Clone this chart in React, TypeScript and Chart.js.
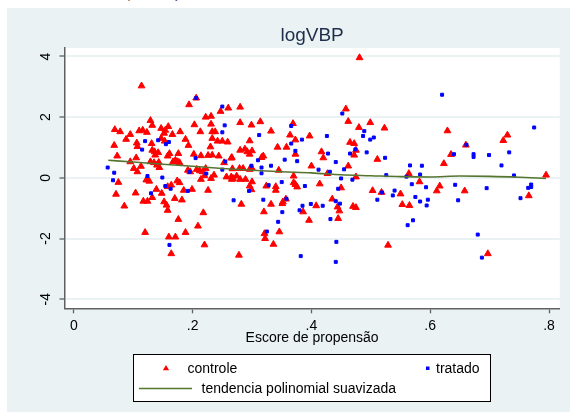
import React, { useEffect, useRef } from "react";
import { Chart, registerables } from "chart.js";

Chart.register(...registerables);

// ---- data (x = propensity score, y = logVBP) ----
const controle: number[][] = [
  [0.114,3.03],[0.206,2.63],[0.194,2.41],[0.247,2.19],[0.26,2.3],[0.28,2.33],[0.222,2.0],[0.231,2.03],
  [0.129,1.89],[0.132,1.73],[0.203,1.75],[0.231,1.77],[0.28,1.82],[0.299,1.74],[0.314,1.85],[0.369,1.79],
  [0.069,1.59],[0.078,1.52],[0.11,1.55],[0.116,1.57],[0.123,1.5],[0.147,1.63],[0.154,1.57],[0.159,1.69],[0.152,1.47],[0.166,1.43],[0.179,1.52],[0.213,1.52],[0.233,1.52],[0.238,1.52],
  [0.095,1.43],[0.088,1.27],[0.106,1.15],[0.107,1.03],[0.147,1.3],[0.153,1.21],[0.131,1.13],[0.188,1.27],[0.193,1.07],[0.233,1.3],[0.242,1.21],[0.25,1.21],[0.259,1.18],[0.296,1.22],[0.332,1.54],[0.364,1.41],[0.373,1.25],[0.397,1.38],[0.343,1.01],[0.358,1.01],[0.068,1.07],
  [0.132,0.91],[0.136,0.86],[0.142,0.83],[0.137,0.75],[0.158,0.72],[0.161,0.8],[0.176,0.8],[0.202,0.78],[0.214,0.73],[0.226,0.74],[0.23,1.02],[0.233,0.75],[0.244,0.72],[0.266,0.67],[0.28,0.91],[0.288,0.95],[0.292,0.86],[0.3,0.89],[0.296,0.78],[0.316,0.67],[0.319,0.72],[0.373,0.78],
  [0.073,0.72],[0.105,0.66],[0.095,0.53],[0.113,0.38],[0.101,0.31],[0.107,0.2],[0.129,0.53],[0.135,0.5],[0.14,0.42],[0.144,0.34],[0.143,0.51],[0.167,0.53],[0.171,0.58],[0.175,0.53],[0.178,0.5],
  [0.192,0.25],[0.207,0.28],[0.212,0.23],[0.217,0.2],[0.222,0.31],[0.196,0.2],[0.236,0.09],[0.214,-0.05],[0.231,-0.02],[0.22,0.07],
  [0.253,0.5],[0.265,0.65],[0.279,0.31],[0.285,0.31],[0.296,0.28],[0.3,0.31],[0.267,0.3],[0.345,0.25],[0.274,0.06],[0.28,-0.05],[0.289,-0.05],[0.3,-0.13],[0.268,-0.02],[0.265,0.03],[0.37,0.06],
  [0.075,-0.15],[0.071,-0.54],[0.085,-0.93],[0.104,-0.5],[0.117,-0.77],[0.124,-0.77],[0.122,-0.07],[0.127,-0.11],[0.139,-0.38],[0.132,-0.65],[0.148,-0.51],[0.158,-0.29],[0.164,-0.24],[0.17,-0.68],[0.156,-0.9],[0.152,-0.79],[0.158,-1.07],[0.174,-0.1],[0.178,-0.16],[0.182,-0.73],[0.185,-0.41],[0.199,-0.38],
  [0.176,-1.37],[0.188,-1.8],[0.209,-1.59],[0.218,-1.15],[0.12,-1.8],[0.16,-1.95],[0.171,-1.95],[0.164,-2.5],[0.22,-2.21],[0.226,-0.41],[0.257,0.03],[0.266,-0.05],[0.282,-0.87],[0.299,-0.39],[0.296,-0.27],
  [0.32,-1.12],[0.321,-1.84],[0.322,-2.0],[0.332,-0.87],[0.336,-2.19],[0.324,-0.27],[0.34,-0.29],[0.34,-0.41],[0.346,-1.78],[0.351,-0.85],[0.352,-0.79],[0.357,-0.7],[0.37,-0.16],[0.373,-0.22],[0.376,-0.3],[0.386,-1.12],[0.396,-1.4],[0.278,-2.55],
  [0.481,3.96],[0.458,2.27],[0.462,1.86],[0.48,1.66],[0.499,1.82],[0.523,1.64],[0.629,1.55],[0.73,1.41],[0.723,1.23],[0.465,1.17],[0.472,1.13],[0.475,0.91],[0.472,0.75],[0.511,0.61],[0.417,0.86],[0.42,0.66],[0.4,0.39],[0.427,0.14],[0.462,0.39],[0.475,0.03],
  [0.66,1.08],[0.635,0.77],[0.623,0.47],[0.564,0.14],[0.582,-0.13],[0.616,-0.27],[0.611,-0.43],[0.658,-0.43],[0.795,0.09],[0.766,-0.59],
  [0.414,-0.2],[0.45,-0.33],[0.435,-0.7],[0.444,-0.96],[0.447,-1.09],[0.445,-1.34],[0.408,-0.92],[0.47,-0.94],[0.475,-0.98],[0.503,-0.42],[0.518,-0.48],[0.55,-0.53],[0.553,-0.88],[0.565,-0.91],[0.529,-2.22],[0.697,-2.5],
];

const tratado: number[][] = [
  [0.206,2.63],[0.25,2.35],[0.254,1.73],[0.366,1.71],[0.25,1.5],[0.12,1.21],[0.142,1.24],[0.16,1.18],[0.155,1.11],[0.312,1.41],[0.366,1.13],[0.384,1.26],[0.115,0.93],[0.31,0.58],[0.373,0.89],[0.376,0.55],[0.355,0.6],
  [0.195,0.2],[0.223,0.14],[0.25,0.27],[0.299,0.4],[0.316,0.34],[0.316,0.15],[0.332,0.4],[0.35,-0.14],[0.057,0.34],[0.068,0.17],[0.066,-0.08],[0.124,0.06],[0.13,-0.51],[0.149,0.01],[0.154,-0.27],[0.163,-0.36],[0.192,-0.43],
  [0.161,-2.21],[0.269,-0.74],[0.295,-0.43],[0.319,-0.72],[0.325,-1.77],[0.328,-0.24],[0.344,-1.45],[0.358,-0.69],[0.351,-1.13],[0.389,-0.27],[0.385,-0.92],[0.38,-1.07],[0.399,-0.86],[0.382,-2.58],[0.205,0.65],[0.255,0.54],
  [0.62,2.74],[0.452,2.12],[0.489,1.54],[0.487,1.38],[0.505,1.33],[0.499,1.26],[0.775,1.66],[0.426,1.38],[0.474,0.94],[0.465,0.8],[0.493,0.84],[0.524,0.66],[0.428,0.8],[0.441,0.52],[0.412,0.27],[0.431,0.2],[0.455,0.28],
  [0.45,-0.02],[0.469,-0.06],[0.526,0.09],[0.661,1.09],[0.64,0.78],[0.673,0.78],[0.673,0.69],[0.699,0.75],[0.72,0.41],[0.733,0.84],[0.566,0.41],[0.586,0.4],[0.583,0.11],[0.56,0.04],[0.569,-0.21],[0.593,-0.31],[0.642,-0.23],
  [0.647,-0.74],[0.695,-0.34],[0.741,0.08],[0.77,-0.22],[0.77,-0.3],[0.765,-0.33],[0.752,-0.67],[0.445,-0.36],[0.441,-0.77],[0.448,-0.85],[0.432,-1.36],[0.419,-0.92],[0.519,-0.48],[0.54,-0.42],[0.537,-0.58],[0.511,-0.72],
  [0.575,-0.63],[0.583,-0.78],[0.596,-0.72],[0.594,-0.91],[0.562,-1.56],[0.571,-1.4],[0.442,-2.11],[0.441,-2.77],[0.68,-1.87],[0.687,-2.63],
];

const trendX = [0.058, 0.1, 0.15, 0.2, 0.25, 0.3, 0.35, 0.4, 0.45, 0.5, 0.55, 0.6, 0.65, 0.7, 0.75, 0.795];
const trendY = [0.58, 0.52, 0.45, 0.38, 0.31, 0.25, 0.2, 0.165, 0.1, 0.07, 0.04, 0.03, 0.06, 0.05, 0.02, -0.02];

const xTicks = [0, 0.2, 0.4, 0.6, 0.8];
const xTickLabels = ["0", ".2", ".4", ".6", ".8"];
const yTicks = [-4, -2, 0, 2, 4];
const yTickLabels = ["-4", "-2", "0", "2", "4"];

const TITLE = "logVBP";
const X_TITLE = "Escore de propensão";
const LEGEND_LABELS = ["controle", "tratado", "tendencia polinomial suavizada"];

const BG = "#eaf2f3";
const RED = "#ff0000";
const BLUE = "#0000ff";
const GREEN = "rgb(85,117,47)";
const AXIS = "#606060";
const FONT = "'Liberation Sans', Arial, sans-serif";

const W = 563;
const H = 404;

const textPlugin = {
  id: "stataText",
  beforeDraw(chart: any) {
    const { ctx, chartArea: a } = chart;
    ctx.save();
    ctx.fillStyle = BG;
    ctx.fillRect(0, 0, chart.width, chart.height);
    ctx.fillStyle = "#ffffff";
    ctx.fillRect(a.left, a.top, a.right - a.left, a.bottom - a.top);
    ctx.restore();
  },
  afterDraw(chart: any) {
    const { ctx, chartArea: a } = chart;
    const xs = chart.scales.x;
    const ys = chart.scales.y;
    const cx = (a.left + a.right) / 2;
    ctx.save();
    // title
    ctx.fillStyle = "rgb(30,45,75)";
    ctx.font = `19px ${FONT}`;
    ctx.textAlign = "center";
    ctx.textBaseline = "alphabetic";
    ctx.fillText(TITLE, cx, 33);

    // x tick labels
    ctx.fillStyle = "#000";
    ctx.font = `14px ${FONT}`;
    xTicks.forEach((v, i) => {
      ctx.fillText(xTickLabels[i], xs.getPixelForValue(v), a.bottom + 21.5);
    });
    // x title
    ctx.fillText(X_TITLE, cx, a.bottom + 34);

    // y tick labels rotated
    yTicks.forEach((v, i) => {
      ctx.save();
      ctx.translate(a.left - 14.5, ys.getPixelForValue(v));
      ctx.rotate(-Math.PI / 2);
      ctx.textAlign = "center";
      ctx.fillText(yTickLabels[i], 0, 0);
      ctx.restore();
    });

    // legend
    const lx = 126, ly = 346, lw = 357, lh = 47;
    ctx.fillStyle = "#fff";
    ctx.fillRect(lx, ly, lw, lh);
    ctx.strokeStyle = "#000";
    ctx.lineWidth = 1;
    ctx.strokeRect(lx + 0.5, ly + 0.5, lw, lh);

    // red triangle
    const tx = 159, ty = 360.5, r = 3.6;
    ctx.fillStyle = RED;
    ctx.beginPath();
    ctx.moveTo(tx, ty - r);
    ctx.lineTo(tx + 0.866 * r, ty + 0.5 * r);
    ctx.lineTo(tx - 0.866 * r, ty + 0.5 * r);
    ctx.closePath();
    ctx.fill();
    // blue square
    ctx.fillStyle = BLUE;
    ctx.fillRect(419, 358.5, 3.5, 3.5);
    // green line
    ctx.strokeStyle = GREEN;
    ctx.lineWidth = 1.6;
    ctx.beginPath();
    ctx.moveTo(132, 380.5);
    ctx.lineTo(185, 380.5);
    ctx.stroke();

    ctx.fillStyle = "#000";
    ctx.font = `14px ${FONT}`;
    ctx.textAlign = "left";
    ctx.fillText(LEGEND_LABELS[0], 180.5, 365);
    ctx.fillText(LEGEND_LABELS[1], 429, 365);
    ctx.fillText(LEGEND_LABELS[2], 194.5, 385);
    ctx.restore();
  },
};

export default function App() {
  const ref = useRef<HTMLCanvasElement | null>(null);

  useEffect(() => {
    if (!ref.current) return;
    const chart = new Chart(ref.current, {
      type: "scatter",
      data: {
        datasets: [
          {
            label: LEGEND_LABELS[2],
            type: "line",
            data: trendX.map((x, i) => ({ x, y: trendY[i] })),
            borderColor: GREEN,
            borderWidth: 1.6,
            pointRadius: 0,
            fill: false,
            cubicInterpolationMode: "monotone",
            order: 0,
          } as any,
          {
            label: LEGEND_LABELS[1],
            data: tratado.map(([x, y]) => ({ x, y })),
            pointStyle: "rect",
            pointRadius: 2.1,
            backgroundColor: BLUE,
            borderColor: BLUE,
            borderWidth: 1,
            order: 1,
          },
          {
            label: LEGEND_LABELS[0],
            data: controle.map(([x, y]) => ({ x, y })),
            pointStyle: "triangle",
            pointRadius: 3.9,
            backgroundColor: RED,
            borderColor: RED,
            borderWidth: 1,
            order: 2,
          },
        ],
      },
      options: {
        animation: false,
        responsive: false,
        events: [],
        layout: { padding: { left: 0, right: 10.3, top: 40, bottom: 63.7 } },
        plugins: {
          legend: { display: false },
          title: { display: false },
          tooltip: { enabled: false },
        },
        scales: {
          x: {
            type: "linear",
            min: -0.0157,
            max: 0.818,
            afterBuildTicks: (s: any) => {
              s.ticks = xTicks.map((v) => ({ value: v }));
            },
            afterFit: (s: any) => {
              s.height = 40;
            },
            ticks: { display: false },
            grid: {
              drawOnChartArea: false,
              drawTicks: true,
              tickLength: 5,
              tickColor: AXIS,
              tickWidth: 1.3,
            },
            border: { display: true, color: AXIS, width: 1.5 },
          },
          y: {
            type: "linear",
            min: -4.3,
            max: 4.28,
            afterBuildTicks: (s: any) => {
              s.ticks = yTicks.map((v) => ({ value: v }));
            },
            afterFit: (s: any) => {
              s.width = 57.5;
            },
            ticks: { display: false },
            grid: {
              drawOnChartArea: true,
              color: BG,
              lineWidth: 2,
              drawTicks: true,
              tickLength: 5,
              tickColor: AXIS,
              tickWidth: 1.3,
            },
            border: { display: true, color: AXIS, width: 1.5 },
          },
        },
      },
      plugins: [textPlugin],
    } as any);
    return () => chart.destroy();
  }, []);

  return (
    <div style={{ position: "absolute", left: 0, top: 0, width: 570, height: 412, overflow: "hidden", background: "#fff" }}>
      <span style={{ position: "absolute", left: 125, top: -15, color: "#000", font: "15px 'Liberation Serif', serif" }}>(</span>
      <span style={{ position: "absolute", left: 175, top: -15, color: "#000", font: "15px 'Liberation Serif', serif" }}>)</span>
      <div style={{ position: "absolute", left: 7, top: 8, width: W, height: H }}>
        <canvas ref={ref} width={W} height={H} style={{ width: W, height: H, display: "block" }} />
      </div>
    </div>
  );
}
